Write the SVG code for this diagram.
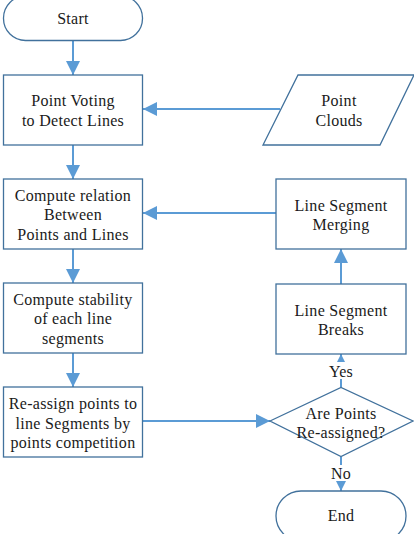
<svg xmlns="http://www.w3.org/2000/svg" width="414" height="534" viewBox="0 0 414 534">
<defs>
<style>
.n{fill:#fff;stroke:#41719C;stroke-width:1.3}
.t{font-family:'Liberation Serif',serif;font-size:16px;letter-spacing:0.3px;fill:#1a1a1a;text-anchor:middle}
.c{fill:none;stroke:#5B9BD5;stroke-width:2}
</style>
<marker id="a" markerUnits="userSpaceOnUse" markerWidth="14" markerHeight="14" viewBox="0 0 12 12" refX="12" refY="6" orient="auto">
<path d="M0,0 L12,6 L0,12 Z" fill="#5B9BD5"/>
</marker>
</defs>
<rect width="414" height="534" fill="#fff"/>
<g id="connectors">
<line class="c" x1="73" y1="41" x2="73" y2="75" marker-end="url(#a)"/>
<line class="c" x1="73" y1="145" x2="73" y2="179" marker-end="url(#a)"/>
<line class="c" x1="73" y1="249" x2="73" y2="283" marker-end="url(#a)"/>
<line class="c" x1="73" y1="353" x2="73" y2="387" marker-end="url(#a)"/>
<line class="c" x1="280" y1="109" x2="143" y2="109" marker-end="url(#a)"/>
<line class="c" x1="276" y1="213" x2="143" y2="213" marker-end="url(#a)"/>
<line class="c" x1="341" y1="284" x2="341" y2="249" marker-end="url(#a)"/>
<line class="c" x1="341" y1="387" x2="341" y2="354" marker-end="url(#a)"/>
<line class="c" x1="142.5" y1="421" x2="270" y2="421" marker-end="url(#a)"/>
<line class="c" x1="341" y1="457" x2="341" y2="491" marker-end="url(#a)"/>
<rect x="328" y="362" width="26" height="17" fill="#fff"/>
<text class="t" x="341" y="377">Yes</text>
<rect x="330" y="465" width="22" height="16" fill="#fff"/>
<text class="t" x="341" y="479">No</text>
</g>
<g id="start">
<rect class="n" x="3.5" y="-4" width="139" height="44.5" rx="22"/>
<text class="t" x="73" y="24">Start</text>
</g>
<g id="voting">
<rect class="n" x="3.5" y="75" width="139" height="70"/>
<text class="t" x="73" y="106">Point Voting</text>
<text class="t" x="73" y="126">to Detect Lines</text>
</g>
<g id="clouds">
<polygon class="n" points="298,75 414,75 380,145 263,145"/>
<text class="t" x="339" y="106">Point</text>
<text class="t" x="339" y="126">Clouds</text>
</g>
<g id="relation">
<rect class="n" x="3.5" y="179" width="139" height="70"/>
<text class="t" x="73" y="201">Compute relation</text>
<text class="t" x="73" y="220">Between</text>
<text class="t" x="73" y="240">Points and Lines</text>
</g>
<g id="merging">
<rect class="n" x="276" y="179" width="130" height="70"/>
<text class="t" x="341" y="211">Line Segment</text>
<text class="t" x="341" y="230">Merging</text>
</g>
<g id="stability">
<rect class="n" x="3.5" y="283" width="139" height="70"/>
<text class="t" x="73" y="305">Compute stability</text>
<text class="t" x="73" y="324">of each line</text>
<text class="t" x="73" y="344">segments</text>
</g>
<g id="breaks">
<rect class="n" x="276" y="284" width="130" height="70"/>
<text class="t" x="341" y="316">Line Segment</text>
<text class="t" x="341" y="335">Breaks</text>
</g>
<g id="reassign">
<rect class="n" x="3.5" y="387" width="139" height="70"/>
<text class="t" x="73" y="409">Re-assign points to</text>
<text class="t" x="73" y="429">line Segments by</text>
<text class="t" x="73" y="448">points competition</text>
</g>
<g id="decision">
<polygon class="n" points="270,421 341,387.5 413,421 341,456.5"/>
<text class="t" x="341" y="419">Are Points</text>
<text class="t" x="341" y="438">Re-assigned?</text>
</g>
<g id="end">
<rect class="n" x="276" y="491" width="130" height="50" rx="25"/>
<text class="t" x="341" y="521">End</text>
</g>
</svg>
